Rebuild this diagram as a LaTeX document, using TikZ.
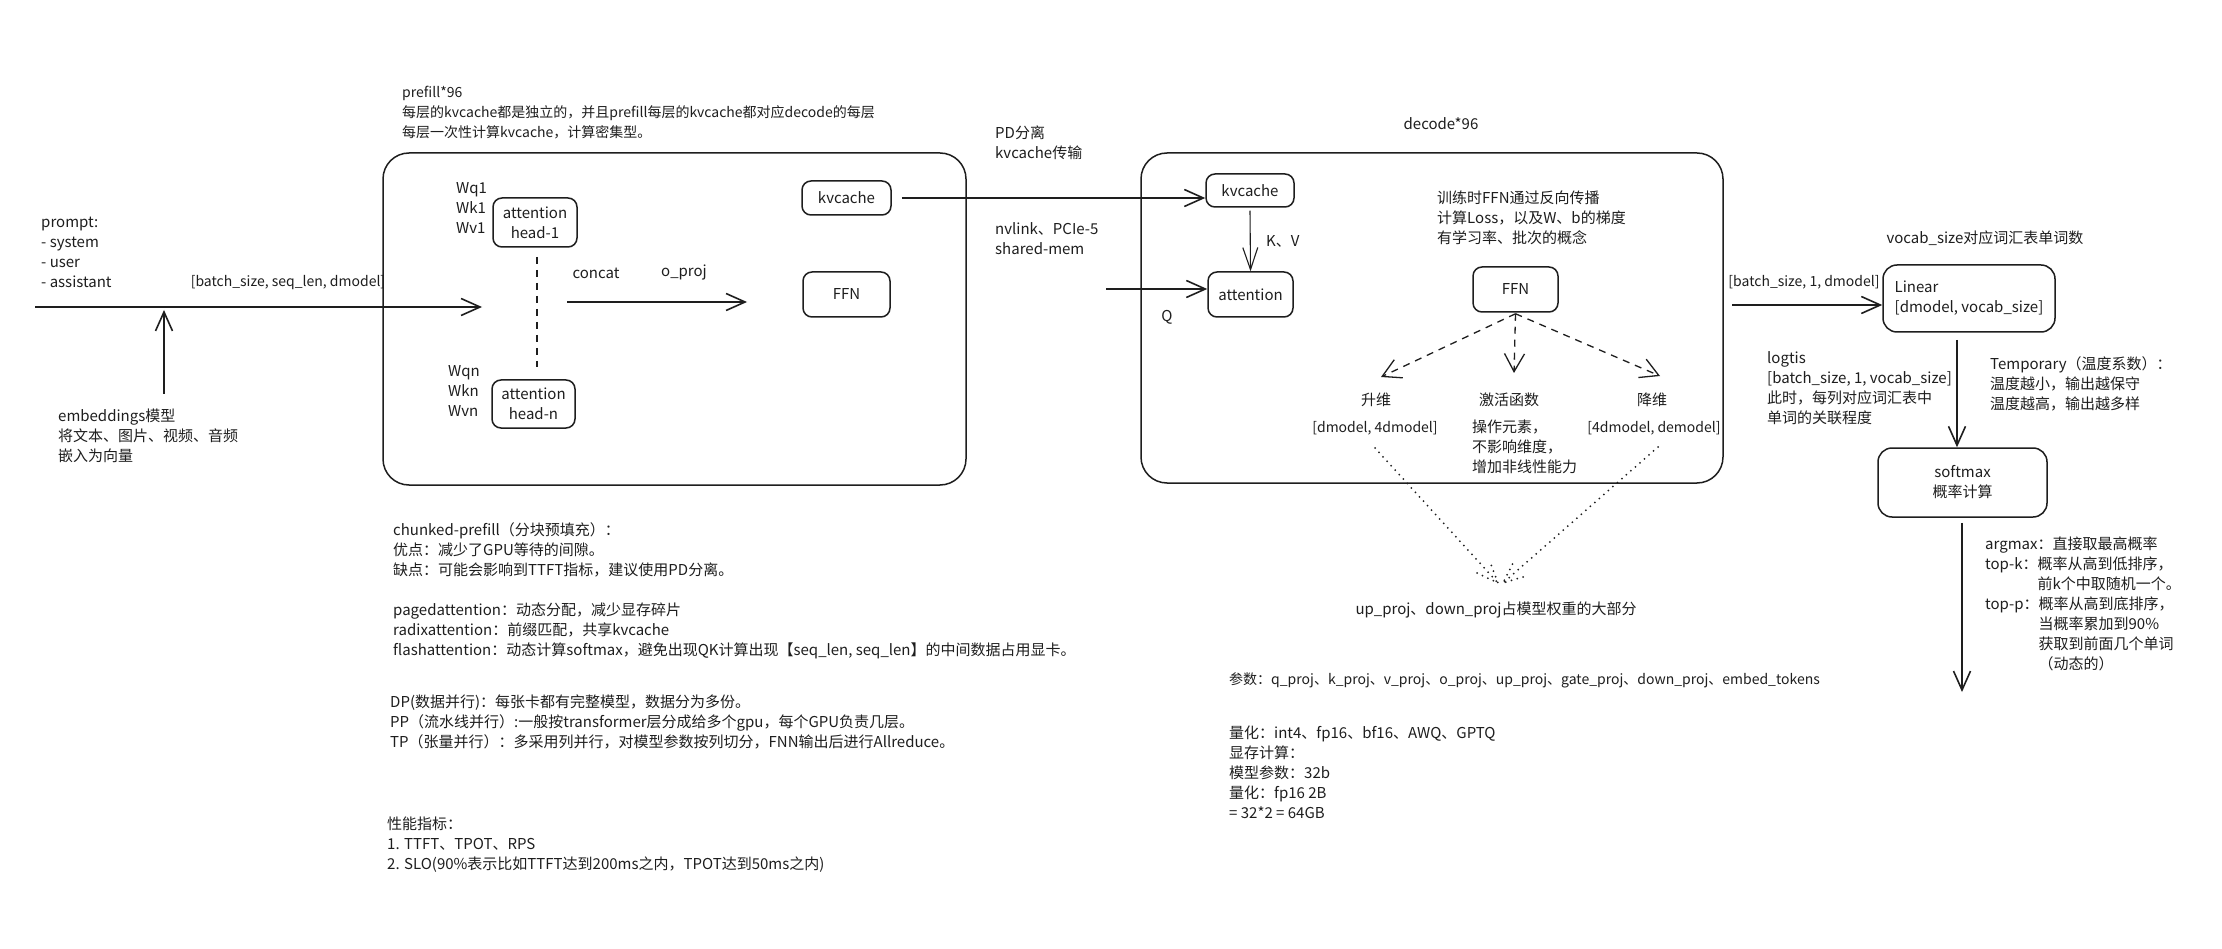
\documentclass[tikz,border=0pt]{standalone}
\usepackage{fontspec}
\setmainfont{Noto Sans CJK SC}
\usetikzlibrary{arrows.meta}
\definecolor{ink}{HTML}{1E1E1E}
\tikzset{
  txt/.style={inner sep=0pt, font=\fontsize{15}{20}\selectfont, text=ink, align=left},
  sml/.style={font=\fontsize{14}{20}\selectfont},
  blk/.style={txt, anchor=north west},
  rbox/.style={draw=ink, line width=1.5pt, rounded corners=9pt, inner sep=0pt, font=\fontsize{15}{20}\selectfont, text=ink, align=center},
  bigbox/.style={draw=ink, line width=1.5pt, rounded corners=26pt, inner sep=0pt},
  arr/.style={draw=ink, line width=1.6pt, -{Straight Barb[length=19pt,width=17pt]}},
  thinarr/.style={draw=ink, line width=1.1pt, -{Straight Barb[length=22pt,width=15pt]}},
  dasharr/.style={draw=ink, line width=1.3pt, dash pattern=on 7pt off 6pt, -{Straight Barb[length=18pt,width=20pt]}},
  dashline/.style={draw=ink, line width=1.3pt, dash pattern=on 7pt off 6pt},
  dotline/.style={draw=ink, line width=2pt, line cap=round, dash pattern=on 0pt off 6pt},
}
\begin{document}
\begin{tikzpicture}[x=1pt,y=-1pt]
\fill[white] (0,0) rectangle (2222,949);
\useasboundingbox (0,0) rectangle (2222,949);

% big frames
\node[bigbox, minimum width=583pt, minimum height=332pt] (pre) at (674.5,319) {};
\node[bigbox, minimum width=582pt, minimum height=330pt] (dec) at (1432,318) {};

% boxes
\node[rbox, minimum width=84pt, minimum height=49pt] (h1) at (535,222.5) {attention\\head-1};
\node[rbox, minimum width=83pt, minimum height=48pt] (hn) at (533.5,404) {attention\\head-n};
\node[rbox, minimum width=89pt, minimum height=34pt] (pkv) at (846.5,198) {kvcache};
\node[rbox, minimum width=87pt, minimum height=45pt] (pffn) at (846.5,294.5) {FFN};
\node[rbox, minimum width=88pt, minimum height=33pt] (dkv) at (1250,190.5) {kvcache};
\node[rbox, minimum width=85pt, minimum height=45pt] (datt) at (1250.5,294.5) {attention};
\node[rbox, minimum width=85pt, minimum height=45pt] (dffn) at (1515.5,289.5) {FFN};
\node[rbox, align=left, rounded corners=14pt, minimum width=172pt, minimum height=67pt] (lin) at (1969,298.5) {Linear\\{[}dmodel, vocab\_size{]}};
\node[rbox, rounded corners=14pt, minimum width=169pt, minimum height=69pt] (sm) at (1962.5,482.5) {softmax\\概率计算};

% texts
\node[blk] (prompt) at (41,217) {prompt:\\- system\\- user\\- assistant};
\node[txt, sml] (bsl) at (288,283) {{[}batch\_size, seq\_len, dmodel{]}};
\node[blk] (emb) at (58,409) {embeddings模型\\将文本、图片、视频、音频\\嵌入为向量};
\node[blk, sml] (prehdr) at (402,86) {prefill*96\\每层的kvcache都是独立的，并且prefill每层的kvcache都对应decode的每层\\每层一次性计算kvcache，计算密集型。};
\node[blk] (w1) at (456,182) {Wq1\\Wk1\\Wv1};
\node[blk] (wn) at (448,365) {Wqn\\Wkn\\Wvn};
\node[txt] (concat) at (596,273) {concat};
\node[txt] (oproj) at (684,273) {o\_proj};
\node[blk] (pd) at (995,126) {PD分离\\kvcache传输};
\node[blk] (nvl) at (995,222) {nvlink、PCIe-5\\shared-mem};
\node[txt] (dech) at (1441,124) {decode*96};
\node[txt, anchor=west] (kv) at (1266,241) {K、V};
\node[txt] (q) at (1167,317) {Q};
\node[blk] (train) at (1437,191) {训练时FFN通过反向传播\\计算Loss，以及W、b的梯度\\有学习率、批次的概念};
\node[txt] (upd) at (1376,400) {升维};
\node[txt, sml] (upds) at (1375,428) {{[}dmodel, 4dmodel{]}};
\node[txt] (act) at (1509,400) {激活函数};
\node[blk] (actd) at (1472,420) {操作元素，\\不影响维度，\\增加非线性能力};
\node[txt] (dnd) at (1652,400) {降维};
\node[txt, sml] (dnds) at (1654,428) {{[}4dmodel, demodel{]}};
\node[txt] (major) at (1496,610) {up\_proj、down\_proj占模型权重的大部分};
\node[txt, sml, anchor=west] (params) at (1229,680) {参数：q\_proj、k\_proj、v\_proj、o\_proj、up\_proj、gate\_proj、down\_proj、embed\_tokens};
\node[blk] (quant) at (1229,726) {量化：int4、fp16、bf16、AWQ、GPTQ\\显存计算：\\模型参数：32b\\量化：fp16 2B\\= 32*2 = 64GB};
\node[txt] (vocab) at (1985,238) {vocab\_size对应词汇表单词数};
\node[txt, sml] (b1d) at (1804,282) {{[}batch\_size, 1, dmodel{]}};
\node[blk] (logit) at (1767,351) {logtis\\{[}batch\_size, 1, vocab\_size{]}\\此时，每列对应词汇表中\\单词的关联程度};
\node[blk] (temp) at (1990,356) {Temporary（温度系数）：\\温度越小，输出越保守\\温度越高，输出越多样};
\node[blk] (samp) at (1985,537) {argmax：直接取最高概率\\top-k：概率从高到低排序，\\\phantom{top-k：}前k个中取随机一个。\\top-p：概率从高到底排序，\\\phantom{top-p：}当概率累加到90\%\\\phantom{top-p：}获取到前面几个单词\\\phantom{top-p：}（动态的）};
\node[blk] (chunk) at (393,522) {chunked-prefill（分块预填充）：\\优点：减少了GPU等待的间隙。\\缺点：可能会影响到TTFT指标，建议使用PD分离。\\[20pt]pagedattention：动态分配，减少显存碎片\\radixattention：前缀匹配，共享kvcache\\flashattention：动态计算softmax，避免出现QK计算出现【seq\_len, seq\_len】的中间数据占用显卡。};
\node[blk] (par) at (390,695) {DP(数据并行)：每张卡都有完整模型，数据分为多份。\\PP（流水线并行）:一般按transformer层分成给多个gpu，每个GPU负责几层。\\TP（张量并行）：多采用列并行，对模型参数按列切分，FNN输出后进行Allreduce。};
\node[blk] (perf) at (387,817) {性能指标：\\1. TTFT、TPOT、RPS\\2. SLO(90\%表示比如TTFT达到200ms之内，TPOT达到50ms之内)};

% coordinates
\coordinate (in0) at (35,307);
\coordinate (in1) at (482,307);
\coordinate (emb0) at (164,394);
\coordinate (emb1) at (164,310);
\coordinate (cc0) at (567,302);
\coordinate (cc1) at (747,302);
\coordinate (dash0) at (537,257);
\coordinate (dash1) at (537,367);
\coordinate (q0) at (1106,289);
\coordinate (up1) at (1381,377);
\coordinate (act1) at (1514,373);
\coordinate (down1) at (1660,376);
\coordinate (dl0) at (1375,448);
\coordinate (tipL) at (1498,583);
\coordinate (dr0) at (1658,447);
\coordinate (tipR) at (1503,583);
\coordinate (l0) at (1732,305);
\coordinate (ls) at (1957,340);
\coordinate (out) at (1962,692);

% connectors
\draw[arr] (in0) -- (in1);
\draw[arr] (emb0) -- (emb1);
\draw[arr] (cc0) -- (cc1);
\draw[dashline] (dash0) -- (dash1);
\draw[arr] ([xshift=10pt]pkv.east) -- (pkv.east -| dkv.west);
\draw[arr] (q0) -- (q0 -| datt.west);
\draw[thinarr] ([yshift=-3pt]dkv.south) -- (datt.north);
\draw[dasharr] ([yshift=-1pt]dffn.south) -- (up1);
\draw[dasharr] ([yshift=-1pt]dffn.south) -- (act1);
\draw[dasharr] ([yshift=-1pt]dffn.south) -- (down1);
\draw[dotline] (dl0) -- (tipL);
\draw[dotline] (tipL) ++(-21,-10) -- (tipL) -- ++(-8,-21);
\draw[dotline] (dr0) -- (tipR);
\draw[dotline] (tipR) ++(20,-6) -- (tipR) -- ++(10,-20);
\draw[arr] (l0) -- (l0 -| lin.west);
\draw[arr] (ls) -- (ls |- sm.north);
\draw[arr] ([yshift=-5pt]sm.south -| out) -- (out);
\end{tikzpicture}
\end{document}
